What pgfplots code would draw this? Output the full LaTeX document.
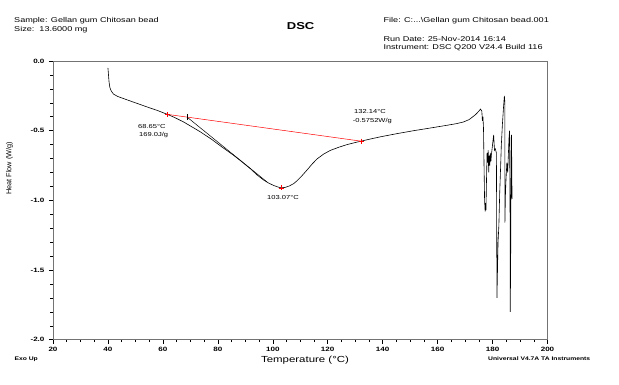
\documentclass[border=0pt]{standalone}
\usepackage{fontspec}
\setmainfont{Liberation Sans}[FakeStretch=1.3]
\newfontfamily\plainfont{Liberation Sans}
\usepackage{pgfplots}
\pgfplotsset{compat=1.18}
\newcommand{\fs}[1]{\fontsize{#1}{#1}\selectfont}
\begin{document}
\begin{tikzpicture}[x=1pt,y=1pt]
\path[use as bounding box] (0,0) rectangle (619,384);
\begin{axis}[
  at={(53pt,44.3pt)}, anchor=south west, scale only axis,
  width=494.5pt, height=278.7pt,
  xmin=20, xmax=200, ymin=-2, ymax=0,
  xtick={20,40,60,80,100,120,140,160,180,200},
  ytick={-2,-1.5,-1,-0.5,0},
  minor x tick num=3, minor y tick num=4,
  tick align=outside, xtick pos=bottom, ytick pos=left,
  major tick length=4pt, minor tick length=2.5pt,
  axis line style={black!55, line width=0.6pt},
  tick style={black, line width=0.5pt},
  /pgf/number format/assume math mode=true,
  ticklabel style={font=\fs{6.2}\bfseries},
  yticklabel style={/pgf/number format/fixed, /pgf/number format/fixed zerofill, /pgf/number format/precision=1, xshift=-1pt},
  xticklabel style={/pgf/number format/fixed, /pgf/number format/precision=0},
]
\addplot[black, line width=0.6pt] coordinates {
(40.0,-0.05)(40.2,-0.10)(40.4,-0.15)(40.7,-0.19)(41.2,-0.215)(42.0,-0.237)(43.5,-0.254)(46,-0.272)(50,-0.300)(54,-0.328)(58,-0.355)(61.65,-0.383)(64,-0.403)(67.5,-0.437)(70,-0.466)(73.6,-0.508)(77.8,-0.563)(81.5,-0.617)(85.7,-0.676)(88.8,-0.724)(91.8,-0.772)(94.3,-0.818)(96.6,-0.853)(98.5,-0.876)(100.3,-0.893)(102,-0.905)(103.07,-0.910)(104.5,-0.907)(106,-0.897)(107.6,-0.880)(108.8,-0.860)(110.5,-0.826)(112.4,-0.784)(114.3,-0.740)(116.1,-0.703)(118.5,-0.668)(120.9,-0.642)(124,-0.619)(127,-0.600)(130,-0.585)(132.14,-0.5752)(135,-0.562)(139.2,-0.544)(145,-0.522)(151.3,-0.500)(157,-0.482)(163.5,-0.461)(167,-0.449)(169.5,-0.437)(171.5,-0.420)(173.8,-0.385)(175,-0.360)(175.6,-0.345)(176.1,-0.36)(176.3,-0.43)(176.5,-0.40)(176.7,-0.48)(176.9,-0.75)(177.1,-1.00)(177.3,-1.08)(177.5,-1.02)(177.6,-1.07)(177.8,-0.85)(178.0,-0.66)(178.2,-0.73)(178.4,-0.64)(178.6,-0.80)(178.8,-0.68)(179.0,-0.75)(179.2,-0.66)(179.4,-0.72)(179.6,-0.67)(180.0,-0.60)(180.4,-0.53)(180.7,-0.64)(181.0,-0.63)(181.4,-0.66)(181.6,-1.70)(181.8,-1.50)(182.0,-1.30)(182.3,-1.18)(182.6,-0.95)(182.9,-0.78)(183.2,-0.60)(183.6,-0.45)(184.0,-0.33)(184.3,-0.25)(184.5,-0.30)(184.5,-1.16)(184.7,-0.95)(184.9,-0.85)(185.2,-0.73)(185.5,-0.80)(185.8,-0.65)(186.0,-0.55)(186.2,-0.50)(186.4,-1.20)(186.45,-1.80)(186.6,-1.40)(186.8,-0.55)(186.9,-0.53)(187.1,-0.99)
};
\addplot[black, line width=0.5pt] coordinates {(68.9,-0.404)(97.9,-0.868)};
\addplot[red, line width=0.5pt] coordinates {(61.65,-0.383)(132.14,-0.5752)};
\addplot[red, only marks, mark=+, mark size=2.5pt, mark options={line width=0.5pt}] coordinates {(61.65,-0.383)(103.07,-0.910)(132.14,-0.5752)};
\addplot[black, only marks, mark=|, mark size=3pt, mark options={line width=0.6pt}] coordinates {(68.9,-0.404)};
\end{axis}
\begin{scope}[every node/.style={inner sep=0pt}]
\node[anchor=west] at (14,363) {\fs{7}Sample: Gellan gum Chitosan bead};
\node[anchor=west] at (14,354) {\fs{7}Size:\ \ 13.6000 mg};
\node at (300.6,358.3) {\fs{10}\bfseries DSC};
\node[anchor=west] at (383.4,363) {\fs{7}File: C:...\textbackslash Gellan gum Chitosan bead.001};
\node[anchor=west] at (383.4,345) {\fs{7}Run Date: 25-Nov-2014 16:14};
\node[anchor=west] at (383.4,336.3) {\fs{7}Instrument: DSC Q200 V24.4 Build 116};
\node[anchor=west] at (14.3,24.7) {\fs{5.2}\bfseries Exo Up};
\node at (305,24) {\fs{8.8}Temperature (°C)};
\node[anchor=west] at (488,25) {\fs{5.2}\bfseries Universal V4.7A TA Instruments};
\node[rotate=90] at (9.5,215.7) {\plainfont\fs{7.3}Heat Flow (W/g)};
\node[anchor=west] at (138,257.3) {\fs{5.8}68.65°C};
\node[anchor=west] at (139,249) {\fs{5.8}169.0J/g};
\node at (283,186.3) {\fs{5.8}103.07°C};
\node[anchor=west] at (354,272) {\fs{5.8}132.14°C};
\node[anchor=west] at (352.7,263.3) {\fs{5.8}-0.5752W/g};
\end{scope}
\end{tikzpicture}
\end{document}
